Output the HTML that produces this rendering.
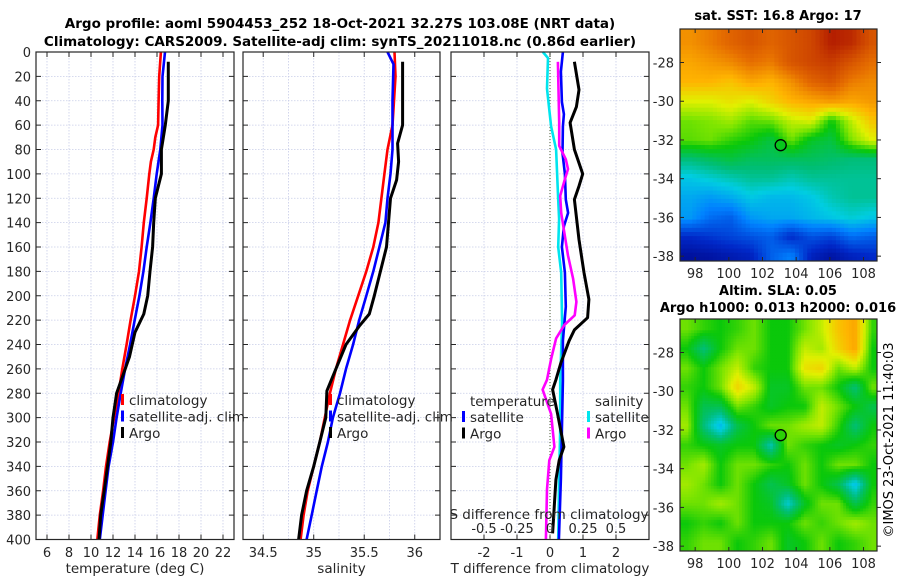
<!DOCTYPE html>
<html><head><meta charset="utf-8">
<style>
html,body{margin:0;padding:0;background:#fff;}
body{width:900px;height:580px;overflow:hidden;font-family:"DejaVu Sans","Liberation Sans",sans-serif;}
svg text{font-family:"DejaVu Sans","Liberation Sans",sans-serif;}
</style></head>
<body>
<svg id="chart" width="900" height="580" viewBox="0 0 900 580" xmlns="http://www.w3.org/2000/svg">
<rect width="900" height="580" fill="#fff"/>
<text x="340" y="28" font-size="13.5" font-weight="bold" text-anchor="middle">Argo profile: aoml 5904453_252 18-Oct-2021 32.27S 103.08E (NRT data)</text>
<text x="340" y="46" font-size="13.5" font-weight="bold" text-anchor="middle">Climatology: CARS2009. Satellite-adj clim: synTS_20211018.nc (0.86d earlier)</text>
<text x="778" y="20" font-size="13" font-weight="bold" text-anchor="middle">sat. SST: 16.8 Argo: 17</text>
<text x="778" y="295" font-size="13" font-weight="bold" text-anchor="middle">Altim. SLA: 0.05</text>
<text x="778" y="312" font-size="13" font-weight="bold" text-anchor="middle">Argo h1000: 0.013 h2000: 0.016</text>
<text x="0" y="0" font-size="13" text-anchor="middle" transform="translate(893,440) rotate(-90)">©IMOS 23-Oct-2021 11:40:03</text>
<g id="g"></g>
</svg>
<script>
// ---- profile data ----
const tClimDepth=[0,20,40,60,70,80,90,100,120,140,160,180,200,220,240,260,280,300,320,340,360,380,400];
const tClimVal=[16.35,16.2,16.15,16.1,15.85,15.7,15.45,15.3,15.06,14.8,14.6,14.36,14.0,13.6,13.24,12.85,12.5,12.1,11.7,11.36,11.1,10.8,10.57];
const tSatDepth=[0,20,40,60,80,100,120,140,160,180,200,220,240,260,280,300,320,340,360,380,400];
const tSatVal=[16.73,16.5,16.48,16.5,16.3,15.97,15.7,15.4,15.06,14.76,14.4,13.97,13.55,13.1,12.7,12.33,12.0,11.6,11.33,11.06,10.8];
const tArgoDepth=[8,40,60,80,100,120,140,160,180,200,215,230,250,280,300,320,340,360,380,400];
const tArgoVal=[17.03,17.03,16.75,16.4,16.4,15.85,15.7,15.6,15.36,15.15,14.8,14.0,13.5,12.33,12.0,11.8,11.5,11.2,10.88,10.73];
const sClimDepth=[0,20,60,80,100,140,160,180,200,220,240,260,280,300,320,340,360,380,400];
const sClimVal=[35.80,35.81,35.78,35.73,35.70,35.64,35.59,35.52,35.44,35.36,35.29,35.22,35.16,35.11,35.06,35.0,34.94,34.90,34.87];
const sSatDepth=[0,10,40,80,100,120,140,160,180,200,220,240,260,280,300,320,340,360,380,400];
const sSatVal=[35.73,35.79,35.78,35.78,35.76,35.73,35.71,35.65,35.59,35.52,35.45,35.39,35.32,35.26,35.19,35.14,35.08,35.03,34.98,34.93];
const sArgoDepth=[8,60,75,90,105,120,160,200,215,225,240,260,278,300,320,340,360,380,400];
const sArgoVal=[35.88,35.88,35.83,35.84,35.82,35.76,35.72,35.60,35.55,35.45,35.32,35.22,35.13,35.12,35.06,35.0,34.93,34.88,34.85];
// differences from climatology
const dTSatDepth=[0,16,41,51,61,83,100,121,132,143,160,181,209,237,270,310,350,400];
const dTSatVal=[0.39,0.33,0.36,0.42,0.39,0.38,0.45,0.48,0.55,0.42,0.36,0.45,0.48,0.39,0.39,0.36,0.33,0.27];
const dTArgoDepth=[8,31,45,58,80,100,110,121,154,181,203,218,228,237,255,269,277,297,324,335,351,395];
const dTArgoVal=[0.74,0.88,0.80,0.61,0.74,0.99,0.88,0.74,0.88,1.03,1.18,1.14,0.74,0.58,0.33,0.18,0.08,0.23,0.42,0.28,0.18,0.08];
const dSSatDepth=[0,5,30,61,80,121,137,160,181,222,270,310,350,400];
const dSSatVal=[-0.054,-0.015,-0.023,0.008,0.046,0.062,0.069,0.062,0.085,0.092,0.077,0.077,0.069,0.062];
const dSArgoDepth=[8,58,77,88,96,106,118,132,148,167,186,205,216,224,235,252,269,277,297,324,335,359,400];
const dSArgoVal=[0.06,0.07,0.07,0.12,0.136,0.108,0.077,0.085,0.108,0.136,0.175,0.2,0.187,0.108,0.046,0.008,-0.023,-0.056,0.008,0.033,-0.005,-0.023,-0.031];
// ---- map data (coarse grids, colour index 0..1) ----
const sstLon=[97.7,98.9,100.1,101.3,102.5,103.7,104.9,106.1,107.3,108.5];
const sstLat=[-27,-28,-29,-30,-31,-32,-33,-34,-35,-36,-37,-38];
const sstGrid=[
[.75,.78,.82,.85,.82,.85,.88,.95,.93,.85],
[.72,.74,.76,.80,.78,.85,.88,.90,.85,.80],
[.70,.70,.68,.72,.70,.75,.82,.85,.78,.76],
[.62,.62,.64,.62,.66,.70,.72,.74,.72,.74],
[.55,.56,.58,.54,.55,.60,.62,.50,.60,.68],
[.54,.55,.52,.50,.46,.55,.48,.46,.56,.62],
[.42,.44,.46,.44,.44,.44,.44,.43,.42,.42],
[.34,.36,.38,.40,.40,.38,.40,.40,.40,.40],
[.30,.28,.30,.34,.32,.32,.34,.38,.40,.40],
[.28,.22,.20,.28,.30,.30,.32,.34,.36,.34],
[.12,.14,.16,.18,.20,.12,.18,.16,.22,.20],
[.05,.06,.08,.10,.20,.25,.10,.06,.10,.12]];
const slaLon=[97.5,98.5,99.5,100.5,101.5,102.5,103.5,104.5,105.5,106.5,107.5,108.5];
const slaLat=[-26.8,-27.8,-28.8,-29.8,-30.8,-31.8,-32.8,-33.8,-34.8,-35.8,-36.8,-37.8];
const slaGrid=[
[.55,.52,.50,.52,.55,.50,.50,.55,.60,.68,.72,.52],
[.50,.42,.50,.55,.55,.50,.50,.60,.58,.66,.72,.50],
[.55,.50,.55,.60,.52,.50,.50,.64,.66,.55,.60,.50],
[.52,.50,.55,.66,.60,.48,.48,.55,.55,.50,.42,.55],
[.55,.45,.45,.55,.52,.48,.50,.50,.60,.55,.50,.45],
[.58,.42,.32,.45,.50,.55,.55,.58,.60,.52,.42,.50],
[.52,.50,.48,.50,.50,.38,.55,.52,.50,.48,.50,.52],
[.55,.58,.50,.55,.55,.52,.50,.55,.50,.55,.55,.50],
[.58,.55,.50,.55,.50,.45,.48,.55,.50,.45,.33,.50],
[.55,.55,.58,.55,.50,.48,.36,.48,.55,.55,.45,.52],
[.50,.52,.50,.55,.50,.50,.50,.55,.52,.55,.58,.55],
[.52,.55,.55,.50,.52,.55,.48,.50,.55,.50,.52,.55]];
const argoLon=103.08, argoLat=-32.27;
const depthTicks=[0,20,40,60,80,100,120,140,160,180,200,220,240,260,280,300,320,340,360,380,400];
const tTicks=[6,8,10,12,14,16,18,20,22];
const sTicks=[34.5,35,35.5,36];
const sGrid=[34.5,34.75,35,35.25,35.5,35.75,36];
const dTTicks=[-2,-1,0,1,2];
const dSLabels=["-0.5","-0.25","0","0.25","0.5"];
const lonTicks=[98,100,102,104,106,108];
const latTicks=[-28,-30,-32,-34,-36,-38];

// ---- scales ----
const NS='http://www.w3.org/2000/svg';
const G=document.getElementById('g');
const Y0=52,Y1=539.5;
const yD=d=>Y0+d*(Y1-Y0)/400;
const P1={x0:36,x1:234}, P2={x0:243,x1:440}, P3={x0:451,x1:649};
const xT=t=>P1.x0+(t-5)*(P1.x1-P1.x0)/18;
const xS=s=>P2.x0+(s-34.3)*(P2.x1-P2.x0)/1.95;
const xDT=v=>P3.x0+(v+3)*(P3.x1-P3.x0)/6;
const xDS=v=>xDT(v*4);
function el(tag,attrs,parent){const e=document.createElementNS(NS,tag);for(const k in attrs)e.setAttribute(k,attrs[k]);(parent||G).appendChild(e);return e;}
function txt(s,x,y,size,anchor,parent){const t=el('text',{x:x,y:y,'font-size':size,'text-anchor':anchor||'middle',fill:'#262626'},parent);t.textContent=s;return t;}
const CMAP=[[0,[0,0,125]],[0.12,[0,40,200]],[0.25,[0,130,255]],[0.35,[0,205,225]],[0.42,[0,190,120]],[0.5,[10,200,10]],[0.56,[130,230,0]],[0.62,[225,240,0]],[0.7,[255,180,0]],[0.8,[230,110,0]],[0.9,[200,60,0]],[1,[160,0,0]]];
function jet(v){
  v=Math.max(0,Math.min(1,v));
  for(let k=1;k<CMAP.length;k++){ if(v<=CMAP[k][0]){const a=CMAP[k-1],b=CMAP[k],f=(v-a[0])/(b[0]-a[0]);
    return 'rgb('+[0,1,2].map(i=>Math.round(a[1][i]+(b[1][i]-a[1][i])*f)).join(',')+')';}}
  return 'rgb(160,0,0)';
}

function panel(P,name,xGrid,xFn,xLabels,xLabelVals,xTitle){
  const g=el('g',{});
  
  
  depthTicks.forEach(d=>{ if(d>0&&d<400) el('line',{x1:P.x0,x2:P.x1,y1:yD(d),y2:yD(d),stroke:'#c8cde8','stroke-width':0.8,'stroke-dasharray':'1.5,1.5'},g);});
  xGrid.forEach(v=>{const x=xFn(v); el('line',{x1:x,x2:x,y1:Y0,y2:Y1,stroke:'#c8cde8','stroke-width':0.8,'stroke-dasharray':'1.5,1.5'},g);});
  depthTicks.forEach(d=>{ el('line',{x1:P.x0,x2:P.x0+5,y1:yD(d),y2:yD(d),stroke:'#262626','stroke-width':1},g); el('line',{x1:P.x1-5,x2:P.x1,y1:yD(d),y2:yD(d),stroke:'#262626','stroke-width':1},g);});
  xLabelVals.forEach((v,i)=>{const x=xFn(v); el('line',{x1:x,x2:x,y1:Y1-5,y2:Y1,stroke:'#262626'},g); el('line',{x1:x,x2:x,y1:Y0,y2:Y0+5,stroke:'#262626'},g); txt(xLabels[i],x,557,13,'middle',g);});
  const t=txt(xTitle,(P.x0+P.x1)/2,573,13.5,'middle',g);
  
  
  return g;
}
function frame(P,name){const r=el('rect',{x:P.x0,y:Y0,width:P.x1-P.x0,height:Y1-Y0,fill:'none',stroke:'#262626','stroke-width':1.2});}
function line(depths,vals,xFn,color,name,w){
  const pts=depths.map((d,i)=>xFn(vals[i]).toFixed(1)+','+yD(d).toFixed(1)).join(' ');
  const p=el('polyline',{points:pts,fill:'none',stroke:color,'stroke-width':w||2.6,'stroke-linejoin':'round'});
  
  
}
function legend(x,y,items){
  items.forEach((it,i)=>{
    const yy=y+i*16.5;
    const m=el('rect',{x:x,y:yy-7,width:3,height:11,fill:it[1]});
    
    
    const t=txt(it[0],x+8,yy+4,13.5,'start');
    
    
  });
}

depthTicks.forEach(d=>{const t=txt(String(d),31,yD(d)+5,13,'end');});

panel(P1,'temperature-panel',tTicks,xT,tTicks.map(String),tTicks,'temperature (deg C)');
line(tClimDepth,tClimVal,xT,'#ff0000','temp-climatology-line');
line(tSatDepth,tSatVal,xT,'#0000ff','temp-satellite-line');
line(tArgoDepth,tArgoVal,xT,'#000000','temp-argo-line',3);
frame(P1,'temperature-panel');
legend(121,401,[['climatology','#ff0000','climatology'],['satellite-adj. clim','#0000ff','satellite-adj'],['Argo','#000000','argo']]);

panel(P2,'salinity-panel',sGrid,xS,sTicks.map(String),sTicks,'salinity');
line(sClimDepth,sClimVal,xS,'#ff0000','sal-climatology-line');
line(sSatDepth,sSatVal,xS,'#0000ff','sal-satellite-line');
line(sArgoDepth,sArgoVal,xS,'#000000','sal-argo-line',3);
frame(P2,'salinity-panel');
legend(329,401,[['climatology','#ff0000','sal-climatology'],['satellite-adj. clim','#0000ff','sal-satellite-adj'],['Argo','#000000','sal-argo']]);

panel(P3,'difference-panel',dTTicks,xDT,dTTicks.map(String),dTTicks,'T difference from climatology');
el('line',{x1:xDT(0),x2:xDT(0),y1:Y0,y2:Y1,stroke:'#4a5a30','stroke-width':1,'stroke-dasharray':'1,2'});
line(dSSatDepth,dSSatVal,xDS,'#00e5ee','sal-diff-satellite-line');
line(dTSatDepth,dTSatVal,xDT,'#0000ff','temp-diff-satellite-line');
line(dSArgoDepth,dSArgoVal,xDS,'#ff00ff','sal-diff-argo-line');
line(dTArgoDepth,dTArgoVal,xDT,'#000000','temp-diff-argo-line',3);
frame(P3,'difference-panel');
{const t=txt('temperature',470,406,13.5,'start');}
{const t=txt('salinity',595,406,13.5,'start');}
legend(462,418,[['satellite','#0000ff','diff-temp-satellite'],['Argo','#000000','diff-temp-argo']]);
legend(587,418,[['satellite','#00e5ee','diff-sal-satellite'],['Argo','#ff00ff','diff-sal-argo']]);
{const t=txt('S difference from climatology',549,519,13.5,'middle');}
dSLabels.forEach((s,i)=>{const t=txt(s,xDT(dTTicks[i]),533,13,'middle');});

function map(name,y0,y1,lonArr,latArr,grid,nx,ny){
  const X0=680,X1=877;
  const lonMin=97.1,lonMax=108.8,latTop=-26.27,latBot=-38.25;
  const xL=l=>X0+(l-lonMin)*(X1-X0)/(lonMax-lonMin);
  const yL=l=>y0+(latTop-l)*(y1-y0)/(latTop-latBot);
  const g=el('g',{});
  
  
  function sample(lon,lat){
    let cx=(lon-lonArr[0])/(lonArr[1]-lonArr[0]), cy=(latArr[0]-lat)/(latArr[0]-latArr[1]);
    cx=Math.max(0,Math.min(lonArr.length-1.001,cx)); cy=Math.max(0,Math.min(latArr.length-1.001,cy));
    const i=Math.floor(cx),j=Math.floor(cy),fx=cx-i,fy=cy-j;
    return grid[j][i]*(1-fx)*(1-fy)+grid[j][i+1]*fx*(1-fy)+grid[j+1][i]*(1-fx)*fy+grid[j+1][i+1]*fx*fy;
  }
  const dw=(X1-X0)/nx, dh=(y1-y0)/ny;
  for(let j=0;j<ny;j++)for(let i=0;i<nx;i++){
    const lon=lonMin+(i+0.5)*(lonMax-lonMin)/nx, lat=latTop-(j+0.5)*(latTop-latBot)/ny;
    el('rect',{x:(X0+i*dw).toFixed(2),y:(y0+j*dh).toFixed(2),width:(dw+0.4).toFixed(2),height:(dh+0.4).toFixed(2),fill:jet(sample(lon,lat))},g);
  }
  el('rect',{x:X0,y:y0,width:X1-X0,height:y1-y0,fill:'none',stroke:'#262626','stroke-width':1.2},g);
  lonTicks.forEach(l=>{const x=xL(l);el('line',{x1:x,x2:x,y1:y1,y2:y1-4,stroke:'#262626'},g);el('line',{x1:x,x2:x,y1:y0,y2:y0+4,stroke:'#262626'},g);txt(String(l),x,y1+17,13,'middle',g);});
  latTicks.forEach(l=>{const y=yL(l);el('line',{x1:X0,x2:X0+4,y1:y,y2:y,stroke:'#262626'},g);el('line',{x1:X1,x2:X1+4,y1:y,y2:y,stroke:'#262626'},g);txt(String(l),674,y+5,13,'end',g);});
  const c=el('circle',{cx:xL(argoLon),cy:yL(argoLat),r:5.5,fill:jet(sample(argoLon,argoLat)),stroke:'#000','stroke-width':1.3},g);
  
  
}
map('sst-map',29,261,sstLon,sstLat,sstGrid,48,56);
map('sla-map',319,551,slaLon,slaLat,slaGrid,70,82);
</script>
</body></html>
